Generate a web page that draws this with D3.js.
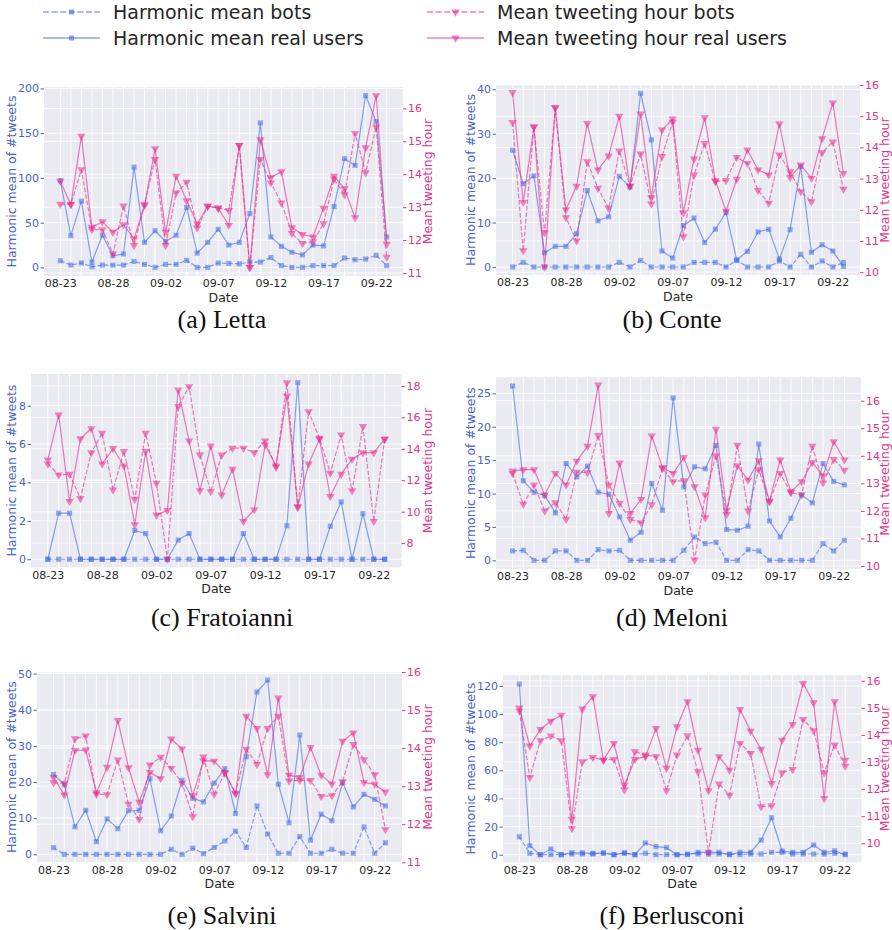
<!DOCTYPE html>
<html><head><meta charset="utf-8">
<script src="https://cdn.jsdelivr.net/npm/d3@7"></script>
<style>body{margin:0;background:#fff} svg{display:block} text{font-family:"DejaVu Sans",sans-serif} text.cap{font-family:"Liberation Serif",serif}</style>
</head><body><svg id="chart" width="892" height="930"></svg>
<script>
const dates = ["08-23","08-24","08-25","08-26","08-27","08-28","08-29","08-30","08-31","09-01","09-02","09-03","09-04","09-05","09-06","09-07","09-08","09-09","09-10","09-11","09-12","09-13","09-14","09-15","09-16","09-17","09-18","09-19","09-20","09-21","09-22","09-23"];
const tickLabels = ["08-23","08-28","09-02","09-07","09-12","09-17","09-22"];
const seriesNames = ["Harmonic mean bots","Harmonic mean real users","Mean tweeting hour bots","Mean tweeting hour real users"];

const lettaRealTweets = [97,35.5,74,6,36,13,15,112,28,41,29,36,67,16,28,42.6,25,28,60,161.5,34,23.5,17,14,25,24,68,121.5,114,192,163,34];
const lettaBotTweets = [7.5,2.6,5,0.7,2.6,2.6,2.6,6.7,3.4,0,3.4,3.4,7.8,0,0,4.9,4.5,4,6,6,11,2,0,0,2,2,2,10.5,8.6,9.3,13.5,2];
const lettaRealHour = [13.79,13.08,15.16,12.39,12.56,12.24,12.47,12.04,13.05,14.78,12.24,13.94,13.2,12.49,13.04,12.97,12.45,14.88,11.17,15.05,13.9,14.08,12.38,12.17,12.1,12.97,13.94,13.56,12.68,14.81,16.39,11.88];
const lettaBotHour = [13.09,13.09,14.14,12.32,12.32,11.59,13.04,11.84,13.09,14.45,11.84,13.43,13.76,12.37,13.02,12.98,12.9,14.88,11.17,14.45,13.74,13.13,12.2,11.9,11.95,12.5,13.85,13.38,15.24,14.05,15.44,11.48];

const conteRealTweets = [26.3,18.75,20.5,3.2,4.65,4.65,7.5,17.2,10.4,11.3,20.4,18,39.1,28.6,3.6,2.0,9.3,11,5.5,8.5,12.3,1.6,3.5,7.9,8.5,1.8,8.4,22.6,3.3,5.0,3.6,0.1];
const conteBotTweets = [0,1.05,0,0,0,0,0,0,0,0,1.05,0,1.5,0,0,0,0,1.05,1.05,1.05,0,1.5,0,0,0,1.35,0,2.85,0,1.35,0,1.0];
const conteRealHour = [15.76,12.24,14.66,10.17,15.27,12.0,12.76,14.77,13.28,13.73,15.0,12.76,15.07,12.39,14.56,14.91,11.9,13.63,14.95,12.94,11.96,12.98,13.92,13.28,13.12,14.75,13.04,13.44,13.01,14.28,15.43,13.17];
const conteBotHour = [14.8,10.69,14.66,11.27,15.27,11.75,11.0,13.54,12.69,12.05,13.89,12.76,13.79,12.19,13.71,14.81,11.14,13.12,14.13,12.9,12.94,13.68,13.49,12.62,12.21,13.76,13.22,12.58,12.26,13.83,14.18,12.66];

const fratoianniRealTweets = [0,2.4,2.4,0,0,0,0,0,1.5,1.34,0,0,1.0,1.34,0,0,0,0,1.34,0,0,0,1.75,9.2,0,0,1.72,2.99,0,2.38,0,0];
const fratoianniBotTweets = [0,0,0,0,0,0,0,0,0,0,0,0,0,0,0,0,0,0,0,0,0,0,0,0,0,0,0,0,0,0,0,0];
const fratoianniRealHour = [13.3,16.16,10.65,14.65,15.29,13.04,14.02,12.92,9.17,13.83,9.78,10.08,17.75,14.5,11.33,14.19,11.07,12.7,9.38,10.12,14.25,12.92,17.36,10.33,13.04,14.61,10.97,12.39,13.34,13.76,13.76,14.61];
const fratoianniBotHour = [13.04,12.34,12.39,10.84,13.76,14.99,11.39,13.83,10.8,14.99,11.81,6.98,16.69,17.96,13.61,11.28,13.61,14.04,14.04,13.76,14.5,12.83,18.21,10.27,16.37,14.67,12.45,14.89,11.33,15.42,9.38,14.61];

const meloniRealTweets = [26.1,11.9,10.2,9.7,7.1,14.5,12.5,14.1,10.2,9.9,6.5,3.0,4.2,11.5,7.5,24.3,11.0,14.0,13.7,17.2,4.6,4.5,5.1,17.4,5.9,3.5,6.3,9.8,8.6,14.5,11.8,11.3];
const meloniBotTweets = [1.4,1.5,0,0,1.4,1.4,0,0,1.6,1.4,1.5,0,0,0,0,0,1.5,3.5,2.5,2.7,0,0,1.6,1.4,0,0,0,0,0,2.5,1.4,3.0];
const meloniRealHour = [13.45,13.5,13.5,12.58,13.36,12.94,13.81,14.35,16.57,11.91,13.74,11.91,12.42,14.72,13.58,13.36,13.94,12.88,11.75,14.97,12.03,13.64,13.12,13.82,12.35,13.85,12.7,13.06,13.76,13.27,14.51,13.85];
const meloniBotHour = [13.36,12.24,12.94,12.0,12.3,11.7,13.41,13.39,14.74,12.94,12.27,11.69,11.57,12.23,13.54,13.06,13.1,10.22,12.58,14.0,11.87,14.39,12.0,13.5,12.33,13.36,12.66,12.58,14.35,13.02,13.87,13.48];

const salviniRealTweets = [22.1,19.3,7.6,12.2,3.5,9.8,7.1,12.1,12.2,20.9,6.5,10.6,20.5,15.5,14.5,19.7,23.7,11.3,27.0,44.9,48.2,19.4,8.7,33.0,3.9,11.1,9.3,19.8,13.1,16.6,15.2,13.4];
const salviniBotTweets = [1.84,0,0,0,0,0,0,0,0,0,0,1.4,0,1.7,0.2,1.9,3.7,6.4,1.9,13.4,5.6,0.3,0.3,4.9,0.3,0.3,1.4,0.3,0.3,7.6,0.3,3.2];
const salviniRealHour = [13.23,12.77,13.94,13.95,12.83,13.5,14.73,13.49,12.58,13.36,13.2,14.24,13.98,12.75,13.67,13.66,13.36,12.8,14.84,14.52,13.3,15.32,13.29,13.23,14.02,13.29,13.06,14.18,14.4,13.1,13.05,12.85];
const salviniBotHour = [13.09,13.08,14.25,14.32,12.79,12.78,13.69,12.53,12.13,13.56,13.76,13.47,13.08,12.2,13.77,12.79,13.34,12.82,13.97,13.57,14.52,14.84,13.14,13.15,13.15,12.73,12.75,13.12,14.1,13.7,13.3,11.86];

const berlusconiRealTweets = [121.4,6.4,0,4,0,1.4,1.4,1,1,0,1,0,8.3,5.7,5,0,0,1.7,1.7,1.7,0,1.7,1.7,10.4,26.3,2.6,1.7,1.7,6.9,1.7,2.8,0];
const berlusconiBotTweets = [12.8,1,0,0,0,0.5,0.5,0.5,1.4,0,1.4,0,1,0,0,0,0.5,0.5,0.5,0.5,0.5,0,0.5,0.5,1.7,1.7,0.5,0.5,0.5,0.5,1,0.5];
const berlusconiRealHour = [15.0,13.59,14.2,14.51,14.73,10.89,14.96,15.41,13.07,13.69,12.15,13.1,13.2,14.24,12.77,14.3,15.23,13.44,11.94,13.2,12.7,14.94,14.14,13.47,12.21,13.81,14.39,15.9,15.19,11.66,15.23,13.07];
const berlusconiBotHour = [14.89,12.43,13.79,13.96,13.79,10.55,13.01,13.17,13.07,13.1,11.97,13.38,13.26,13.2,11.94,13.26,13.97,12.64,9.66,12.19,11.78,13.69,13.32,11.35,11.39,12.61,12.73,14.57,14.16,12.61,13.63,12.85];

const captions = ["(a) Letta","(b) Conte","(c) Fratoianni","(d) Meloni","(e) Salvini","(f) Berlusconi"];
const leftTicks = [[0,50,100,150,200],[0,10,20,30,40],[0,2,4,6,8],[0,5,10,15,20,25],[0,10,20,30,40,50],[0,20,40,60,80,100,120]];
const rightTicks = [[11,12,13,14,15,16],[10,11,12,13,14,15,16],[8,10,12,14,16,18],[10,11,12,13,14,15,16],[11,12,13,14,15,16],[10,11,12,13,14,15,16]];

const panelData = [
  [lettaBotTweets, lettaRealTweets, lettaBotHour, lettaRealHour],
  [conteBotTweets, conteRealTweets, conteBotHour, conteRealHour],
  [fratoianniBotTweets, fratoianniRealTweets, fratoianniBotHour, fratoianniRealHour],
  [meloniBotTweets, meloniRealTweets, meloniBotHour, meloniRealHour],
  [salviniBotTweets, salviniRealTweets, salviniBotHour, salviniRealHour],
  [berlusconiBotTweets, berlusconiRealTweets, berlusconiBotHour, berlusconiRealHour]
];

// layout (positions/styles)
const layout = [
  {box:[44,87,403,276], left:[-9.6,201.6], right:[10.91,16.65], labL:11, labR:427, cap:[222,328]},
  {box:[496,85,860,275], left:[-1.8,40.97], right:[9.91,16.0], labL:470, labR:884, cap:[672,328]},
  {box:[31,374,401.5,567.3], left:[-0.42,9.65], right:[6.46,18.76], labL:11.5, labR:427, cap:[222,626]},
  {box:[496,377.3,861,569], left:[-1.3,27.4], right:[9.89,16.85], labL:470, labR:884, cap:[672,626]},
  {box:[37,672,402,862.3], left:[-2.2,50.44], right:[11,16], labL:11, labR:427, cap:[222,924]},
  {box:[503,675,861.5,862.3], left:[-5.4,127.8], right:[9.3,16.21], labL:470, labR:884, cap:[672,924]}
];

const BLUE = "#4169e1", BLUE_TXT = "#4a63c8";
const PINK = "#e7298a", PINK_TXT = "#e0338c";
const svg = d3.select("#chart");
const triangle = d3.symbol().type(d3.symbolTriangle).size(30);
const square = d3.symbol().type(d3.symbolSquare).size(26);

panelData.forEach((series, i) => {
  const L = layout[i];
  const [x0,y0,x1,y1] = L.box;
  const g = svg.append("g");
  const x = d3.scalePoint().domain(dates).range([x0,x1]).padding(1.55);
  const yl = d3.scaleLinear().domain(L.left).range([y1,y0]);
  const yr = d3.scaleLinear().domain(L.right).range([y1,y0]);

  g.append("rect").attr("x",x0).attr("y",y0).attr("width",x1-x0).attr("height",y1-y0).attr("fill","#eaeaf2");
  g.append("g").selectAll("line").data(dates).join("line")
    .attr("x1",d=>x(d)).attr("x2",d=>x(d)).attr("y1",y0).attr("y2",y1)
    .attr("stroke","#fff").attr("stroke-width",0.9);
  g.append("g").selectAll("line").data(leftTicks[i]).join("line")
    .attr("x1",x0).attr("x2",x1).attr("y1",d=>yl(d)).attr("y2",d=>yl(d))
    .attr("stroke","#fff").attr("stroke-width",0.9);
  g.append("g").selectAll("line").data(rightTicks[i]).join("line")
    .attr("x1",x0).attr("x2",x1).attr("y1",d=>yr(d)).attr("y2",d=>yr(d))
    .attr("stroke","#fff").attr("stroke-width",0.9);

  const ax = g.append("g").attr("transform",`translate(0,${y1})`)
    .call(d3.axisBottom(x).tickValues(tickLabels).tickSize(0).tickPadding(3.5));
  ax.select(".domain").remove();
  ax.selectAll("text").attr("font-size",11).attr("fill","#262626");

  const al = g.append("g").attr("transform",`translate(${x0},0)`)
    .call(d3.axisLeft(yl).tickValues(leftTicks[i]).tickFormat(d3.format("d")).tickSize(3.5).tickPadding(1.5));
  al.select(".domain").remove();
  al.selectAll("line").attr("stroke",BLUE_TXT);
  al.selectAll("text").attr("font-size",11).attr("fill",BLUE_TXT);

  const ar = g.append("g").attr("transform",`translate(${x1},0)`)
    .call(d3.axisRight(yr).tickValues(rightTicks[i]).tickFormat(d3.format("d")).tickSize(3.5).tickPadding(1.5));
  ar.select(".domain").remove();
  ar.selectAll("line").attr("stroke",PINK_TXT);
  ar.selectAll("text").attr("font-size",11).attr("fill",PINK_TXT);

  g.append("text").attr("x",(x0+x1)/2).attr("y",y1+26).attr("text-anchor","middle")
    .attr("font-size",12.5).attr("fill","#262626").text("Date");
  g.append("text").attr("transform",`translate(${L.labL},${(y0+y1)/2}) rotate(-90)`)
    .attr("text-anchor","middle").attr("dominant-baseline","central")
    .attr("font-size",12.5).attr("fill",BLUE_TXT).text("Harmonic mean of #tweets");
  g.append("text").attr("transform",`translate(${L.labR},${(y0+y1)/2}) rotate(-90)`)
    .attr("text-anchor","middle").attr("dominant-baseline","central")
    .attr("font-size",12.5).attr("fill",PINK_TXT).text("Mean tweeting hour");

  const defs = [
    {vals:series[0], sc:yl, col:BLUE, dash:"4.5,2", sym:square, rot:0},
    {vals:series[1], sc:yl, col:BLUE, dash:null, sym:square, rot:0},
    {vals:series[2], sc:yr, col:PINK, dash:"4.5,2", sym:triangle, rot:180},
    {vals:series[3], sc:yr, col:PINK, dash:null, sym:triangle, rot:180}
  ];
  defs.forEach(s => {
    const line = d3.line().x((v,j)=>x(dates[j])).y(v=>s.sc(v));
    g.append("path").attr("d",line(s.vals)).attr("fill","none")
      .attr("stroke",s.col).attr("stroke-width",1.2).attr("stroke-opacity",0.6)
      .attr("stroke-dasharray",s.dash);
    g.append("g").selectAll("path").data(s.vals).join("path")
      .attr("d",s.sym).attr("transform",(v,j)=>`translate(${x(dates[j])},${s.sc(v)}) rotate(${s.rot})`)
      .attr("fill",s.col).attr("fill-opacity",0.55);
  });

  svg.append("text").attr("class","cap").attr("x",L.cap[0]).attr("y",L.cap[1]).attr("text-anchor","middle")
    .attr("font-size",26).attr("fill","#111").text(captions[i]);
});

const leg = [
  {x:43, y:12, col:BLUE, dash:"6,2.6", sym:square, rot:0},
  {x:43, y:38, col:BLUE, dash:null, sym:square, rot:0},
  {x:427, y:12, col:PINK, dash:"6,2.6", sym:triangle, rot:180},
  {x:427, y:38, col:PINK, dash:null, sym:triangle, rot:180}
];
leg.forEach((l,k) => {
  const g = svg.append("g");
  g.append("line").attr("x1",l.x).attr("x2",l.x+57).attr("y1",l.y).attr("y2",l.y)
    .attr("stroke",l.col).attr("stroke-width",1.5).attr("stroke-opacity",0.6).attr("stroke-dasharray",l.dash);
  g.append("path").attr("d",l.sym).attr("transform",`translate(${l.x+28.5},${l.y}) rotate(${l.rot})`)
    .attr("fill",l.col).attr("fill-opacity",0.6);
  g.append("text").attr("x",l.x+70).attr("y",l.y).attr("dominant-baseline","central")
    .attr("font-size",19).attr("fill","#262626").text(seriesNames[k]);
});
</script></body></html>
